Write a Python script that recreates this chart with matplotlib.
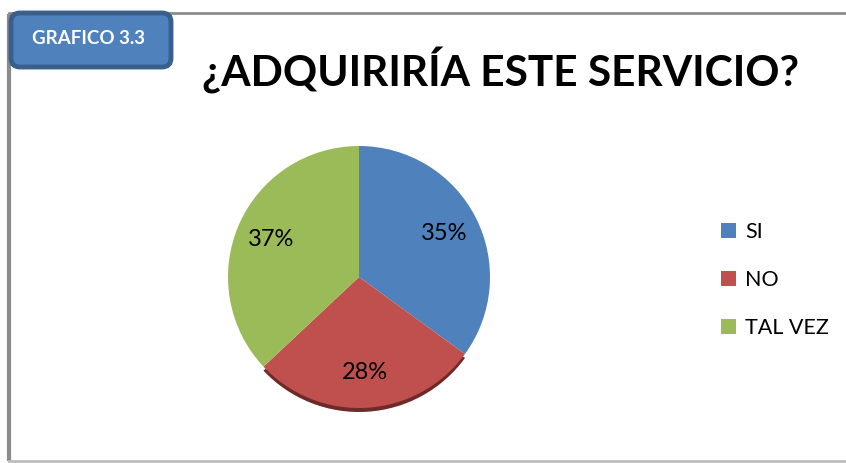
import matplotlib
matplotlib.use("Agg")
import matplotlib.pyplot as plt
from matplotlib.patches import FancyBboxPatch, Wedge

categories = ["SI", "NO", "TAL VEZ"]
values = [35, 28, 37]
colors = ["#4F81BD", "#C0504D", "#9BBB59"]
title = "¿ADQUIRIRÍA ESTE SERVICIO?"
badge = "GRAFICO 3.3"

plt.rcParams['font.family'] = ['Lato', 'DejaVu Sans']

W, H = 846, 463
fig = plt.figure(figsize=(W / 100, H / 100), dpi=100)
ax = fig.add_axes([0, 0, 1, 1])

cx, cy, r = 359, H - 277, 131

# shadow under pie (bottom edge)
start = 90 - 360 * values[0] / 100
end_no = start - 360 * values[1] / 100
ax.add_patch(Wedge((cx, cy - 4), r, end_no, start, facecolor="#6e2a28", edgecolor="none", zorder=1))

wedges, texts, autotexts = ax.pie(values, colors=colors, startangle=90, counterclock=False,
                                  center=(cx, cy), radius=r, autopct="%d%%", pctdistance=0.73,
                                  frame=True, wedgeprops=dict(linewidth=0),
                                  textprops=dict(fontsize=17, color="black"))
for w in wedges:
    w.set_zorder(2)
for t in autotexts:
    t.set_zorder(3)

ax.set_xlim(0, W)
ax.set_ylim(0, H)
ax.set_aspect("auto")
ax.axis("off")

# frame lines
ax.plot([9, 9], [H - 14, 2], color="#8c8c8c", lw=3, zorder=0, solid_capstyle="butt")
ax.plot([9, W], [H - 13, H - 13], color="#8c8c8c", lw=2, zorder=0)
ax.plot([9, W], [2, 2], color="#bdbdbd", lw=2, zorder=0)

# badge
ax.add_patch(FancyBboxPatch((11, H - 67), 160, 54, boxstyle="round,pad=0,rounding_size=9",
                            facecolor="#4F81BD", edgecolor="#3A5F8C", linewidth=3.5, zorder=5))
ax.text(89, H - 39, badge, ha="center", va="center", fontsize=13.5, fontweight="bold",
        color="white", zorder=6)

# title
ax.text(501, H - 71, title, ha="center", va="center", fontsize=30.5, fontweight="bold",
        color="black")

leg = ax.legend(wedges, categories, loc="upper left", bbox_to_anchor=(712 / W, 1 - 213 / H),
                frameon=False, fontsize=15.5, handlelength=0.7, handleheight=0.7,
                handletextpad=0.45, labelspacing=1.32, borderaxespad=0)

fig.savefig("out.png", dpi=100)
